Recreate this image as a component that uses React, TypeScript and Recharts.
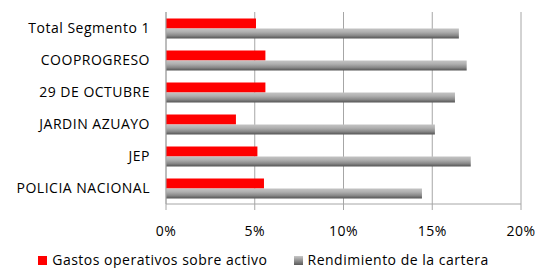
import React from "react";
import { BarChart, Bar, XAxis, YAxis, CartesianGrid, Legend } from "recharts";

const categories = [
  "Total Segmento 1",
  "COOPROGRESO",
  "29 DE OCTUBRE",
  "JARDIN AZUAYO",
  "JEP",
  "POLICIA NACIONAL",
];
const gastosOperativos = [0.0507, 0.056, 0.056, 0.0394, 0.0515, 0.0552];
const rendimientoCartera = [0.165, 0.1694, 0.1628, 0.1515, 0.1717, 0.1442];
const xTicks = [0, 0.05, 0.1, 0.15, 0.2];
const bandTicks = [0, 1, 2, 3, 4, 5, 6];

const data = categories.map((name, i) => ({
  name,
  gastos: gastosOperativos[i],
  rendimiento: rendimientoCartera[i],
}));

const FONT = "'Open Sans', Lato, sans-serif";
const AXIS = "#a6a6a6";
const SPACING = "0.5px";

const LegendContent = (props: any) => {
  const { payload } = props;
  return (
    <div
      style={{
        display: "flex",
        justifyContent: "center",
        gap: 26,
        fontFamily: FONT,
        fontSize: 14,
        lineHeight: "16px",
        letterSpacing: SPACING,
        color: "#000",
        paddingTop: 12,
        paddingLeft: 6,
      }}
    >
      {payload.map((p: any) => (
        <div key={p.value} style={{ display: "flex", alignItems: "center" }}>
          <svg width={9} height={9} style={{ marginRight: 5 }}>
            <rect
              width={9}
              height={9}
              fill={p.dataKey === "gastos" ? "#ff0000" : "url(#grayLegendGrad)"}
            />
          </svg>
          <span>{p.value}</span>
        </div>
      ))}
    </div>
  );
};

export default function App() {
  return (
    <div style={{ position: "absolute", left: 0, top: 0, background: "#fff" }}>
      <svg width={0} height={0} style={{ position: "absolute" }}>
        <defs>
          <linearGradient id="grayLegendGrad" x1="0" y1="0" x2="0" y2="1">
            <stop offset="0%" stopColor="#c8c8c8" />
            <stop offset="100%" stopColor="#5a5a5a" />
          </linearGradient>
        </defs>
      </svg>
      <BarChart
        width={539}
        height={268}
        data={data}
        layout="vertical"
        margin={{ top: 12, right: 18, left: 0, bottom: 0 }}
        barCategoryGap="20%"
        barGap={0}
      >
        <defs>
          <linearGradient id="grayGrad" x1="0" y1="0" x2="0" y2="1">
            <stop offset="0%" stopColor="#c4c4c4" />
            <stop offset="35%" stopColor="#b0b0b0" />
            <stop offset="70%" stopColor="#8a8a8a" />
            <stop offset="100%" stopColor="#555555" />
          </linearGradient>
        </defs>
        <CartesianGrid horizontal={false} stroke={AXIS} strokeWidth={1} />
        <XAxis
          type="number"
          domain={[0, 0.2]}
          ticks={xTicks}
          tickFormatter={(v: number) => `${Math.round(v * 100)}%`}
          stroke={AXIS}
          tickSize={6}
          tickMargin={16}
          height={36}
          tick={{ fill: "#000", fontFamily: FONT, fontSize: 14, letterSpacing: SPACING }}
          interval={0}
        />
        <YAxis
          yAxisId="bands"
          type="number"
          domain={[0, 6]}
          ticks={bandTicks}
          width={0}
          tick={false}
          axisLine={false}
          tickLine={{ stroke: AXIS }}
          tickSize={4}
        />
        <YAxis
          type="category"
          dataKey="name"
          width={166}
          stroke={AXIS}
          tickLine={false}
          tickSize={6}
          tickMargin={10}
          tick={{ fill: "#000", fontFamily: FONT, fontSize: 14, letterSpacing: SPACING }}
          interval={0}
        />
        <Legend verticalAlign="bottom" height={28} content={<LegendContent />} />
        <Bar
          dataKey="gastos"
          name="Gastos operativos sobre activo"
          fill="#ff0000"
          isAnimationActive={false}
        />
        <Bar
          dataKey="rendimiento"
          name="Rendimiento de la cartera"
          fill="url(#grayGrad)"
          isAnimationActive={false}
        />
      </BarChart>
    </div>
  );
}
